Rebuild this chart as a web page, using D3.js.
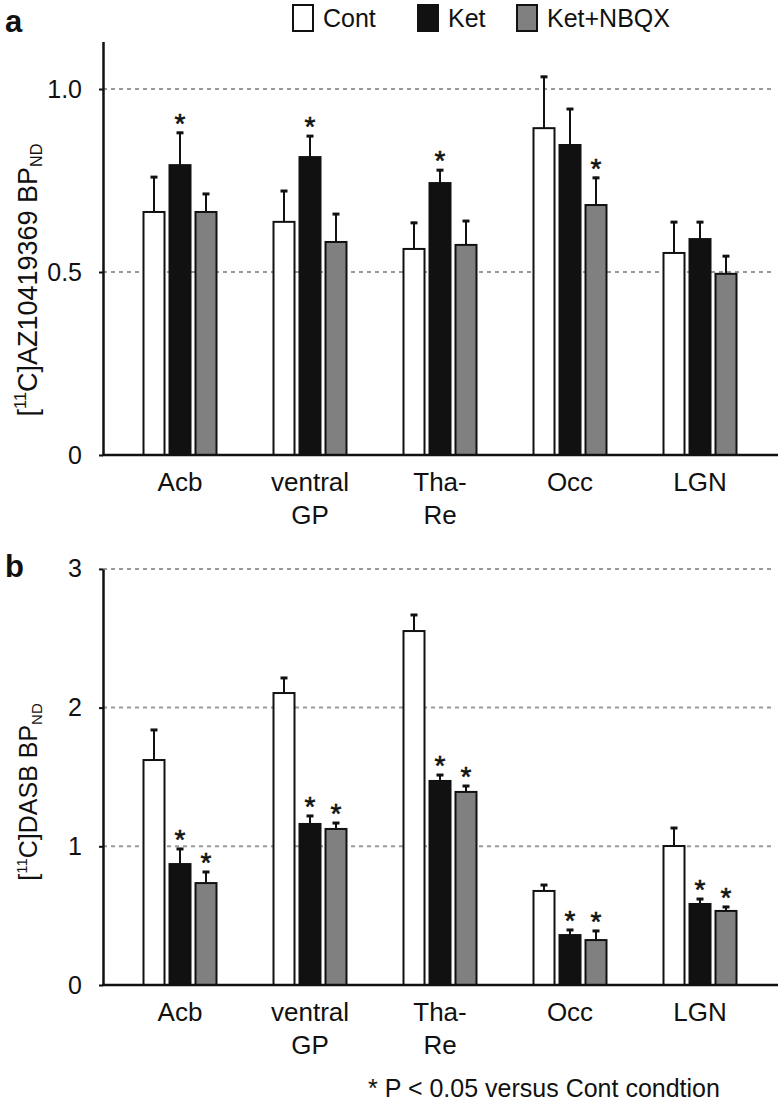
<!DOCTYPE html>
<html>
<head>
<meta charset="utf-8">
<script src="https://cdn.jsdelivr.net/npm/d3@7"></script>
<style>
  body { margin: 0; background: #fff; }
  svg { display: block; font-family: "Liberation Sans", Arial, sans-serif; }
</style>
</head>
<body>
<svg id="chart" width="783" height="1106"></svg>
<script>
// regions and groups
const regions = ["Acb", "ventral GP", "Tha-Re", "Occ", "LGN"];
const regionLines = [["Acb"], ["ventral", "GP"], ["Tha-", "Re"], ["Occ"], ["LGN"]];
const groups = ["Cont", "Ket", "Ket+NBQX"];

// panel a: [11C]AZ10419369 BPND, mean and upper error
const azCont = [0.664, 0.637, 0.563, 0.893, 0.552];
const azKet = [0.792, 0.814, 0.743, 0.847, 0.590];
const azNbqx = [0.664, 0.582, 0.574, 0.683, 0.495];
const azContErr = [0.098, 0.087, 0.074, 0.143, 0.087];
const azKetErr = [0.091, 0.060, 0.038, 0.101, 0.049];
const azNbqxErr = [0.052, 0.079, 0.068, 0.077, 0.051];
const azStars = [[0, 1, 0], [0, 1, 0], [0, 1, 0], [0, 0, 1], [0, 0, 0]];
const azTicks = [0, 0.5, 1.0];

// panel b: [11C]DASB BPND
const dasbCont = [1.622, 2.105, 2.552, 0.678, 1.002];
const dasbKet = [0.872, 1.161, 1.471, 0.360, 0.584];
const dasbNbqx = [0.735, 1.125, 1.392, 0.324, 0.534];
const dasbContErr = [0.224, 0.116, 0.123, 0.050, 0.137];
const dasbKetErr = [0.116, 0.065, 0.050, 0.044, 0.043];
const dasbNbqxErr = [0.087, 0.050, 0.050, 0.073, 0.036];
const dasbStars = [[0, 1, 1], [0, 1, 1], [0, 1, 1], [0, 1, 1], [0, 1, 1]];
const dasbTicks = [0, 1, 2, 3];

const fills = { "Cont": "#ffffff", "Ket": "#111111", "Ket+NBQX": "#808080" };

const svg = d3.select("#chart");

const x0 = d3.scaleBand()
  .domain(regions)
  .range([115, 765])
  .paddingInner(0.4)
  .paddingOuter(0.2);

const x1 = d3.scaleBand()
  .domain(groups)
  .range([0, x0.bandwidth()]);

function rows(means, errs, stars) {
  return regions.map((r, i) => ({
    region: r,
    lines: regionLines[i],
    bars: groups.map((g, j) => ({
      group: g,
      value: means[j][i],
      err: errs[j][i],
      star: stars[i][j]
    }))
  }));
}

function drawPanel(opts) {
  const y = d3.scaleLinear()
    .domain([0, opts.yTop])
    .range([opts.base, opts.base - opts.yTop * opts.pxPerUnit]);

  const g = svg.append("g");

  // dashed gridlines
  g.selectAll("line.grid")
    .data(opts.ticks.filter(d => d > 0))
    .enter()
    .append("line")
    .attr("class", "grid")
    .attr("x1", 103)
    .attr("x2", 772)
    .attr("y1", d => y(d))
    .attr("y2", d => y(d))
    .attr("stroke", "#9a9a9a")
    .attr("stroke-width", 2)
    .attr("stroke-dasharray", "4,4");

  const data = rows(opts.means, opts.errs, opts.stars);

  const grp = g.selectAll("g.region")
    .data(data)
    .enter()
    .append("g")
    .attr("class", "region")
    .attr("transform", d => "translate(" + x0(d.region) + ",0)");

  const bar = grp.selectAll("g.bar")
    .data(d => d.bars)
    .enter()
    .append("g")
    .attr("class", "bar");

  // error bars (upper only)
  bar.append("line")
    .attr("x1", d => x1(d.group) + x1.bandwidth() / 2)
    .attr("x2", d => x1(d.group) + x1.bandwidth() / 2)
    .attr("y1", d => y(d.value))
    .attr("y2", d => y(d.value + d.err))
    .attr("stroke", "#111")
    .attr("stroke-width", 2);
  bar.append("line")
    .attr("x1", d => x1(d.group) + x1.bandwidth() / 2 - 3.5)
    .attr("x2", d => x1(d.group) + x1.bandwidth() / 2 + 3.5)
    .attr("y1", d => y(d.value + d.err) + 1)
    .attr("y2", d => y(d.value + d.err) + 1)
    .attr("stroke", "#111")
    .attr("stroke-width", 3);

  bar.append("rect")
    .attr("x", d => x1(d.group) + 2.5)
    .attr("width", x1.bandwidth() - 5)
    .attr("y", d => y(d.value))
    .attr("height", d => y(0) - y(d.value))
    .attr("fill", d => fills[d.group])
    .attr("stroke", "#111")
    .attr("stroke-width", 2);

  bar.filter(d => d.star)
    .append("text")
    .attr("x", d => x1(d.group) + x1.bandwidth() / 2)
    .attr("y", d => y(d.value + d.err) + 1)
    .attr("text-anchor", "middle")
    .attr("font-size", 28)
    .attr("stroke", "#111")
    .attr("stroke-width", 0.6)
    .attr("fill", "#111")
    .text("*");

  // y axis
  const yAxis = g.append("g")
    .attr("transform", "translate(103,0)")
    .call(d3.axisLeft(y)
      .tickValues(opts.ticks)
      .tickSize(4)
      .tickSizeOuter(0)
      .tickPadding(17)
      .tickFormat(opts.fmt));
  yAxis.select(".domain").attr("stroke", "#111").attr("stroke-width", 2.5);
  yAxis.selectAll(".tick line").attr("stroke", "#111").attr("stroke-width", 2);
  yAxis.selectAll(".tick text")
    .attr("font-size", 25)
    .attr("font-family", "Liberation Sans, Arial, sans-serif")
    .attr("fill", "#111");

  // x axis line
  g.append("line")
    .attr("x1", 102)
    .attr("x2", 778)
    .attr("y1", y(0))
    .attr("y2", y(0))
    .attr("stroke", "#111")
    .attr("stroke-width", 2.5);

  // category labels
  const xAxis = g.append("g")
    .attr("transform", "translate(0," + y(0) + ")")
    .call(d3.axisBottom(x0).tickSize(0).tickFormat(""));
  xAxis.select(".domain").remove();
  xAxis.selectAll(".tick").each(function (d, i) {
    const t = d3.select(this).append("text")
      .attr("text-anchor", "middle")
      .attr("font-size", 26)
      .attr("font-family", "Liberation Sans, Arial, sans-serif")
      .attr("fill", "#111");
    regionLines[i].forEach((line, k) => {
      t.append("tspan")
        .attr("x", 0)
        .attr("y", 36 + k * 33)
        .text(line);
    });
  });

  // y label
  const yl = g.append("text")
    .attr("transform", "translate(37," + opts.labelY + ") rotate(-90)")
    .attr("text-anchor", "middle")
    .attr("font-size", opts.labelSize)
    .attr("fill", "#111");
  yl.append("tspan").text("[");
  yl.append("tspan").attr("font-size", opts.labelSize * 0.6).attr("dy", -opts.labelSize * 0.4).text("11");
  yl.append("tspan").attr("dy", opts.labelSize * 0.4).text("C]" + opts.tracer + " BP");
  yl.append("tspan").attr("font-size", opts.labelSize * 0.6).attr("dy", opts.labelSize * 0.2).text("ND");

  // panel letter
  svg.append("text")
    .attr("x", 5)
    .attr("y", opts.letterY)
    .attr("font-size", 31)
    .attr("font-weight", "bold")
    .attr("fill", "#111")
    .text(opts.letter);
}

drawPanel({
  letter: "a", letterY: 32,
  base: 455, pxPerUnit: 366, yTop: 1.13,
  ticks: azTicks,
  fmt: d => d === 0 ? "0" : d3.format(".1f")(d),
  means: [azCont, azKet, azNbqx],
  errs: [azContErr, azKetErr, azNbqxErr],
  stars: azStars,
  tracer: "AZ10419369", labelY: 280, labelSize: 27
});

drawPanel({
  letter: "b", letterY: 577,
  base: 985, pxPerUnit: 138.7, yTop: 3,
  ticks: dasbTicks,
  fmt: d3.format("d"),
  means: [dasbCont, dasbKet, dasbNbqx],
  errs: [dasbContErr, dasbKetErr, dasbNbqxErr],
  stars: dasbStars,
  tracer: "DASB", labelY: 792, labelSize: 25
});

// legend
const legendX = [293, 418, 517];
const legend = svg.append("g")
  .selectAll("g")
  .data(groups)
  .enter()
  .append("g")
  .attr("transform", (d, i) => "translate(" + legendX[i] + ",5)");
legend.append("rect")
  .attr("width", 20)
  .attr("height", 26)
  .attr("fill", d => fills[d])
  .attr("stroke", "#111")
  .attr("stroke-width", 2);
legend.append("text")
  .attr("x", 30)
  .attr("y", 22)
  .attr("font-size", 25)
  .attr("fill", "#111")
  .text(d => d);

// footnote
svg.append("text")
  .attr("x", 544)
  .attr("y", 1097)
  .attr("text-anchor", "middle")
  .attr("font-size", 25)
  .attr("fill", "#111")
  .text("* P < 0.05 versus Cont condtion");
</script>
</body>
</html>
